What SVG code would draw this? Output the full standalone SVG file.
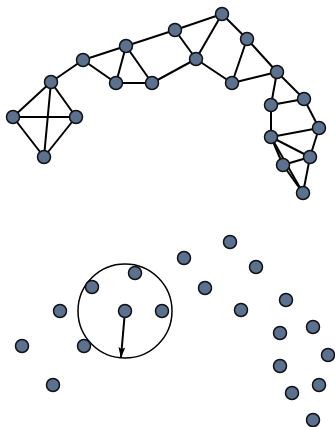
<svg xmlns="http://www.w3.org/2000/svg" width="335" height="427" viewBox="0 0 335 427">
<style>
.n{fill:#5b7190;stroke:#111;stroke-width:1.5}
.e{stroke:#000;stroke-width:2;fill:none}
</style>
<defs>
<marker id="ah" viewBox="0 0 10 10" refX="9" refY="5" markerWidth="5.5" markerHeight="5.5" orient="auto" markerUnits="strokeWidth">
<path d="M0,1.9 L10,5 L0,8.1 L2,5 Z" fill="#000"/>
</marker>
</defs>
<rect width="335" height="427" fill="#fff"/>
<g id="connectors" class="e">
<line x1="51" y1="82" x2="13" y2="117"/>
<line x1="51" y1="82" x2="76" y2="117"/>
<line x1="51" y1="82" x2="44" y2="157"/>
<line x1="13" y1="117" x2="76" y2="117"/>
<line x1="13" y1="117" x2="44" y2="157"/>
<line x1="76" y1="117" x2="44" y2="157"/>
<line x1="51" y1="82" x2="83" y2="60"/>
<line x1="83" y1="60" x2="126" y2="46"/>
<line x1="83" y1="60" x2="116" y2="83"/>
<line x1="126" y1="46" x2="116" y2="83"/>
<line x1="126" y1="46" x2="152" y2="83"/>
<line x1="116" y1="83" x2="152" y2="83"/>
<line x1="126" y1="46" x2="175" y2="30"/>
<line x1="152" y1="83" x2="196" y2="59"/>
<line x1="175" y1="30" x2="222" y2="14"/>
<line x1="175" y1="30" x2="196" y2="59"/>
<line x1="222" y1="14" x2="196" y2="59"/>
<line x1="222" y1="14" x2="247" y2="39"/>
<line x1="247" y1="39" x2="232" y2="83"/>
<line x1="247" y1="39" x2="277" y2="72"/>
<line x1="196" y1="59" x2="232" y2="83"/>
<line x1="232" y1="83" x2="277" y2="72"/>
<line x1="277" y1="72" x2="271" y2="105"/>
<line x1="277" y1="72" x2="304" y2="99"/>
<line x1="271" y1="105" x2="304" y2="99"/>
<line x1="271" y1="105" x2="271" y2="137"/>
<line x1="304" y1="99" x2="319" y2="128"/>
<line x1="271" y1="137" x2="319" y2="128"/>
<line x1="271" y1="137" x2="310" y2="157"/>
<line x1="271" y1="137" x2="283" y2="165"/>
<line x1="271" y1="137" x2="303" y2="193"/>
<line x1="319" y1="128" x2="310" y2="157"/>
<line x1="310" y1="157" x2="283" y2="165"/>
<line x1="310" y1="157" x2="303" y2="193"/>
<line x1="283" y1="165" x2="303" y2="193"/>
<circle cx="125" cy="311" r="47" stroke-width="1.5"/>
<line x1="125" y1="311" x2="121" y2="357" marker-end="url(#ah)"/>
</g>
<g id="nodes-top">
<g id="a"><circle class="n" cx="51" cy="82" r="6.5"/></g>
<g id="b"><circle class="n" cx="13" cy="117" r="6.5"/></g>
<g id="c"><circle class="n" cx="76" cy="117" r="6.5"/></g>
<g id="d"><circle class="n" cx="44" cy="157" r="6.5"/></g>
<g id="e"><circle class="n" cx="83" cy="60" r="6.5"/></g>
<g id="f"><circle class="n" cx="126" cy="46" r="6.5"/></g>
<g id="g"><circle class="n" cx="116" cy="83" r="6.5"/></g>
<g id="h"><circle class="n" cx="152" cy="83" r="6.5"/></g>
<g id="i"><circle class="n" cx="175" cy="30" r="6.5"/></g>
<g id="j"><circle class="n" cx="222" cy="14" r="6.5"/></g>
<g id="k"><circle class="n" cx="196" cy="59" r="6.5"/></g>
<g id="l"><circle class="n" cx="247" cy="39" r="6.5"/></g>
<g id="m"><circle class="n" cx="232" cy="83" r="6.5"/></g>
<g id="nn"><circle class="n" cx="277" cy="72" r="6.5"/></g>
<g id="o"><circle class="n" cx="271" cy="105" r="6.5"/></g>
<g id="p"><circle class="n" cx="304" cy="99" r="6.5"/></g>
<g id="q"><circle class="n" cx="319" cy="128" r="6.5"/></g>
<g id="r"><circle class="n" cx="271" cy="137" r="6.5"/></g>
<g id="s"><circle class="n" cx="310" cy="157" r="6.5"/></g>
<g id="t"><circle class="n" cx="283" cy="165" r="6.5"/></g>
<g id="u"><circle class="n" cx="303" cy="193" r="6.5"/></g>
</g>
<g id="nodes-bottom">
<g id="p1"><circle class="n" cx="125" cy="311" r="6.5"/></g>
<g id="p2"><circle class="n" cx="135" cy="273" r="6.5"/></g>
<g id="p3"><circle class="n" cx="92" cy="287" r="6.5"/></g>
<g id="p4"><circle class="n" cx="60" cy="311" r="6.5"/></g>
<g id="p5"><circle class="n" cx="162" cy="311" r="6.5"/></g>
<g id="p6"><circle class="n" cx="22" cy="346" r="6.5"/></g>
<g id="p7"><circle class="n" cx="84" cy="346" r="6.5"/></g>
<g id="p8"><circle class="n" cx="53" cy="385" r="6.5"/></g>
<g id="p9"><circle class="n" cx="184" cy="258" r="6.5"/></g>
<g id="p10"><circle class="n" cx="230" cy="242" r="6.5"/></g>
<g id="p11"><circle class="n" cx="256" cy="267" r="6.5"/></g>
<g id="p12"><circle class="n" cx="205" cy="288" r="6.5"/></g>
<g id="p13"><circle class="n" cx="286" cy="300" r="6.5"/></g>
<g id="p14"><circle class="n" cx="241" cy="310" r="6.5"/></g>
<g id="p15"><circle class="n" cx="313" cy="327" r="6.5"/></g>
<g id="p16"><circle class="n" cx="280" cy="333" r="6.5"/></g>
<g id="p17"><circle class="n" cx="328" cy="355" r="6.5"/></g>
<g id="p18"><circle class="n" cx="280" cy="366" r="6.5"/></g>
<g id="p19"><circle class="n" cx="319" cy="385" r="6.5"/></g>
<g id="p20"><circle class="n" cx="292" cy="393" r="6.5"/></g>
<g id="p21"><circle class="n" cx="313" cy="420" r="6.5"/></g>
</g>
</svg>
